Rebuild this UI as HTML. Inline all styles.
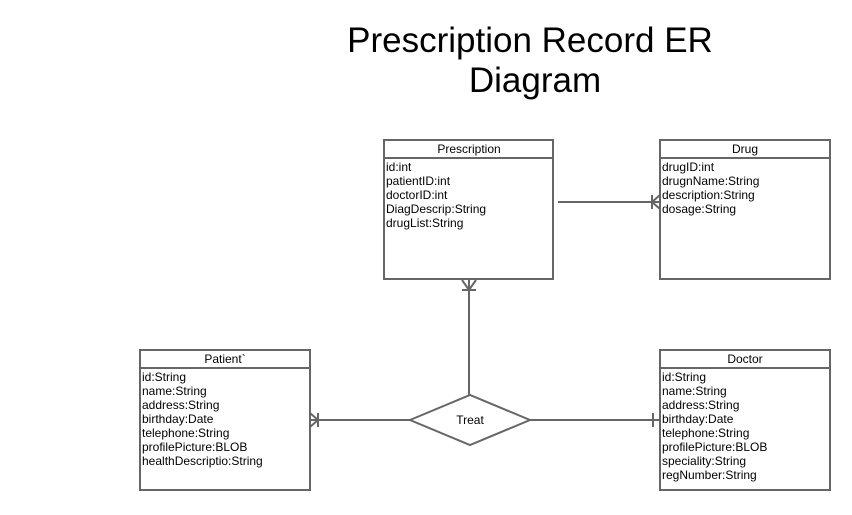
<!DOCTYPE html>
<html><head><style>
body{margin:0;width:852px;height:510px;background:#fff;overflow:hidden;font-family:"Liberation Sans",sans-serif;}
</style></head><body>
<svg width="852" height="510" xmlns="http://www.w3.org/2000/svg" font-family="Liberation Sans, sans-serif">
<text x="530" y="52" font-size="35" text-anchor="middle" fill="#000">Prescription Record ER</text>
<text x="535" y="92" font-size="35" text-anchor="middle" fill="#000">Diagram</text>
<g fill="none" stroke="#666" stroke-width="2">
<rect x="384" y="140" width="169" height="139"/><line x1="384" y1="158" x2="553" y2="158"/>
<rect x="660" y="140" width="170" height="139"/><line x1="660" y1="158" x2="830" y2="158"/>
<rect x="140" y="350" width="170" height="140"/><line x1="140" y1="368" x2="310" y2="368"/>
<rect x="660" y="350" width="170" height="140"/><line x1="660" y1="368" x2="830" y2="368"/>
<polygon points="410,420 470,395 530,420 470,445"/>
<line x1="558" y1="202" x2="660" y2="202"/>
<line x1="652" y1="195" x2="652" y2="209"/>
<polyline points="660,195 652,202 660,209"/>
<line x1="469" y1="280" x2="469" y2="395"/>
<line x1="462" y1="290" x2="476" y2="290"/>
<polyline points="462,280 469,290 476,280"/>
<line x1="310" y1="420" x2="410" y2="420"/>
<line x1="318" y1="413" x2="318" y2="427"/>
<polyline points="310,413 318,420 310,427"/>
<line x1="530" y1="420" x2="660" y2="420"/>
<line x1="653" y1="413" x2="653" y2="427"/>
</g>
<g font-size="12" fill="#000">
<text x="469" y="153" text-anchor="middle">Prescription</text>
<text x="745" y="153" text-anchor="middle">Drug</text>
<text x="225" y="363" text-anchor="middle">Patient`</text>
<text x="745" y="363" text-anchor="middle">Doctor</text>
<text x="470" y="424" text-anchor="middle" font-size="12">Treat</text>
<g transform="translate(386,171)">
<text y="0">id:int</text><text y="14">patientID:int</text><text y="28">doctorID:int</text><text y="42">DiagDescrip:String</text><text y="56">drugList:String</text></g>
<g transform="translate(662,171)">
<text y="0">drugID:int</text><text y="14">drugnName:String</text><text y="28">description:String</text><text y="42">dosage:String</text></g>
<g transform="translate(142,381)">
<text y="0">id:String</text><text y="14">name:String</text><text y="28">address:String</text><text y="42">birthday:Date</text><text y="56">telephone:String</text><text y="70">profilePicture:BLOB</text><text y="84">healthDescriptio:String</text></g>
<g transform="translate(662,381)">
<text y="0">id:String</text><text y="14">name:String</text><text y="28">address:String</text><text y="42">birthday:Date</text><text y="56">telephone:String</text><text y="70">profilePicture:BLOB</text><text y="84">speciality:String</text><text y="98">regNumber:String</text></g>
</g>
</svg>
</body></html>
